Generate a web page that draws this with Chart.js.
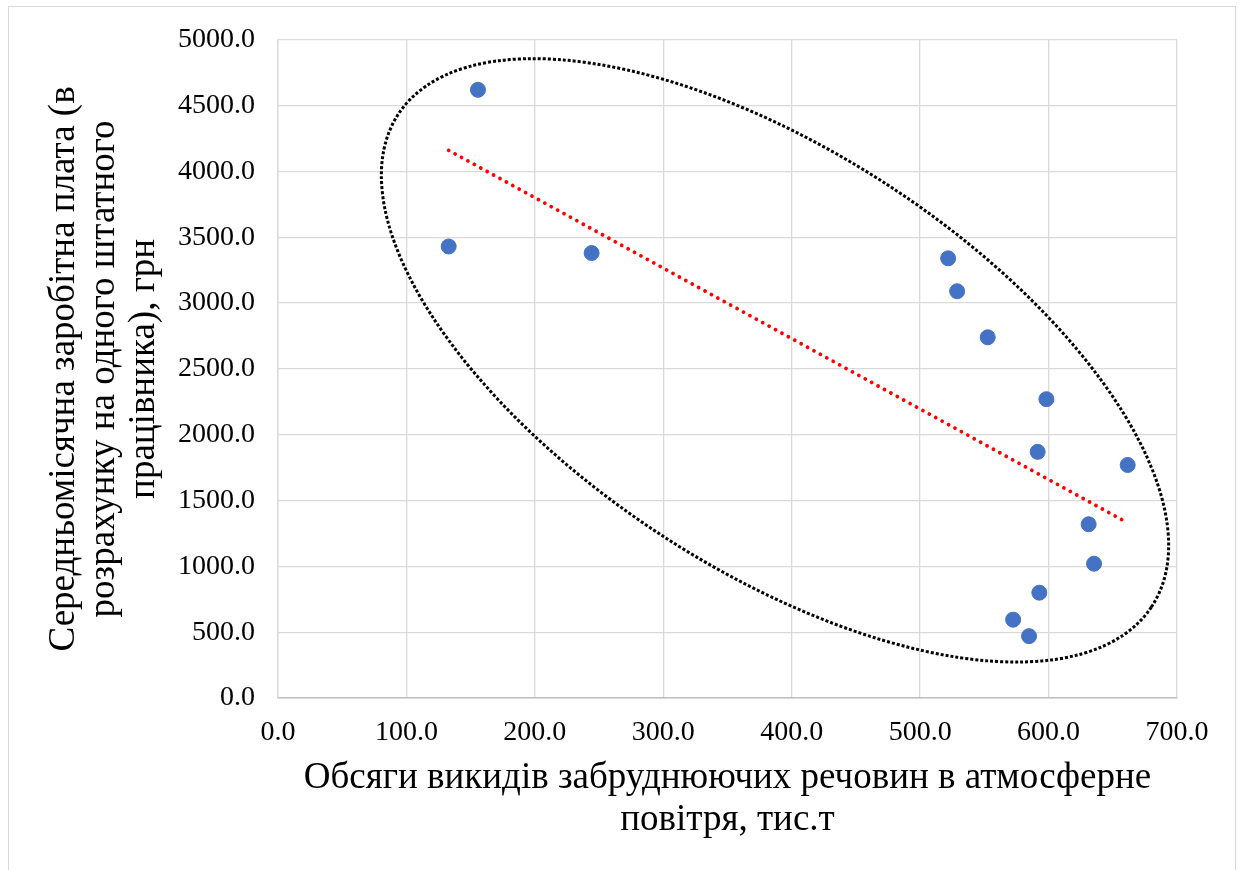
<!DOCTYPE html>
<html>
<head>
<meta charset="utf-8">
<script src="https://cdn.jsdelivr.net/npm/chart.js@4"></script>
<style>
    html, body { margin: 0; padding: 0; background: #fff; overflow: hidden; }
    #frame { position: absolute; left: 8px; top: 6px; width: 1226px; height: 880px; border: 1px solid #d9d9d9; }
    #wrap { position: absolute; left: 0; top: 0; width: 1240px; height: 870px; }
</style>
</head>
<body>
<div id="frame"></div>
<div id="wrap"><canvas id="chart" width="1240" height="870"></canvas></div>
<script>
// Emissions (x) vs. average monthly wage (y)
const emissions = [155.7, 132.9, 244.2, 521.8, 528.8, 552.6, 598.3, 591.5, 661.6, 631.2, 635.4, 592.8, 572.4, 584.8];
const wages = [4620, 3430, 3380, 3340, 3090, 2740, 2270, 1870, 1770, 1320, 1020, 800, 595, 470];

// linear trend, ends
const trendX = [132.9, 661.6];
const trendY = [4160, 1330];

// dotted ellipse: centre and two conjugate axis ends, in data units
const ellipseCenter = [387, 2565];
const ellipseAxisA = [680, 690];
const ellipseAxisB = [297, 1247];

const xTicks = [0, 100, 200, 300, 400, 500, 600, 700];
const yTicks = [0, 500, 1000, 1500, 2000, 2500, 3000, 3500, 4000, 4500, 5000];

const xTitle = ['Обсяги викидів забруднюючих речовин в атмосферне', 'повітря, тис.т'];
const yTitle = ['Середньомісячна заробітна плата (в', 'розрахунку на одного штатного', 'працівника), грн'];

const serif = "'Liberation Serif', 'Times New Roman', serif";

const ellipsePlugin = {
    id: 'ellipse',
    afterDatasetsDraw(chart) {
        const { ctx, scales: { x, y } } = chart;
        const cx = x.getPixelForValue(ellipseCenter[0]);
        const cy = y.getPixelForValue(ellipseCenter[1]);
        const ax = x.getPixelForValue(ellipseAxisA[0]) - cx;
        const ay = y.getPixelForValue(ellipseAxisA[1]) - cy;
        const bx = x.getPixelForValue(ellipseAxisB[0]) - cx;
        const by = y.getPixelForValue(ellipseAxisB[1]) - cy;
        ctx.save();
        ctx.beginPath();
        ctx.save();
        ctx.transform(ax, ay, bx, by, cx, cy);
        ctx.arc(0, 0, 1, 0, Math.PI * 2);
        ctx.restore();
        ctx.strokeStyle = '#000';
        ctx.lineWidth = 3;
        ctx.setLineDash([3, 2]);
        ctx.stroke();
        ctx.restore();
    }
};

new Chart(document.getElementById('chart').getContext('2d'), {
    type: 'scatter',
    data: {
        datasets: [
            {
                data: emissions.map((v, i) => ({ x: v, y: wages[i] })),
                backgroundColor: '#4472C4',
                borderColor: '#4472C4',
                borderWidth: 1,
                pointRadius: 7.5,
                pointHoverRadius: 7.5
            },
            {
                type: 'line',
                data: trendX.map((v, i) => ({ x: v, y: trendY[i] })),
                borderColor: '#FF0000',
                borderWidth: 3.8,
                borderDash: [0.01, 7.3],
                borderCapStyle: 'round',
                pointRadius: 0,
                fill: false
            }
        ]
    },
    options: {
        responsive: false,
        animation: false,
        layout: { padding: { left: 0, top: 35, right: 63, bottom: 0 } },
        plugins: { legend: { display: false }, tooltip: { enabled: false } },
        scales: {
            x: {
                type: 'linear',
                min: 0,
                max: 700,
                afterFit: (s) => { s.height = 172; },
                afterBuildTicks: (s) => { s.ticks = xTicks.map(v => ({ value: v })); },
                grid: { color: '#d9d9d9', lineWidth: 1.3, drawTicks: false },
                border: { color: '#bfbfbf', width: 1.5 },
                ticks: {
                    padding: 18,
                    color: '#000',
                    font: { family: serif, size: 28, lineHeight: 1.2 },
                    callback: (v) => Number(v).toFixed(1)
                },
                title: {
                    display: true,
                    text: xTitle,
                    color: '#000',
                    font: { family: serif, size: 37, lineHeight: '42px' },
                    padding: { top: 0, bottom: 29 }
                }
            },
            y: {
                type: 'linear',
                min: 0,
                max: 5000,
                afterFit: (s) => { s.width = 278; },
                afterBuildTicks: (s) => { s.ticks = yTicks.map(v => ({ value: v })); },
                grid: { color: '#d9d9d9', lineWidth: 1.3, drawTicks: false },
                border: { color: '#d9d9d9', width: 1.3 },
                ticks: {
                    padding: 23,
                    color: '#000',
                    font: { family: serif, size: 28, lineHeight: 1.2 },
                    callback: (v) => Number(v).toFixed(1)
                },
                title: {
                    display: true,
                    text: yTitle,
                    color: '#000',
                    font: { family: serif, size: 37, lineHeight: '40px' },
                    padding: { top: 44, bottom: 0 }
                }
            }
        }
    },
    plugins: [ellipsePlugin]
});
</script>
</body>
</html>
